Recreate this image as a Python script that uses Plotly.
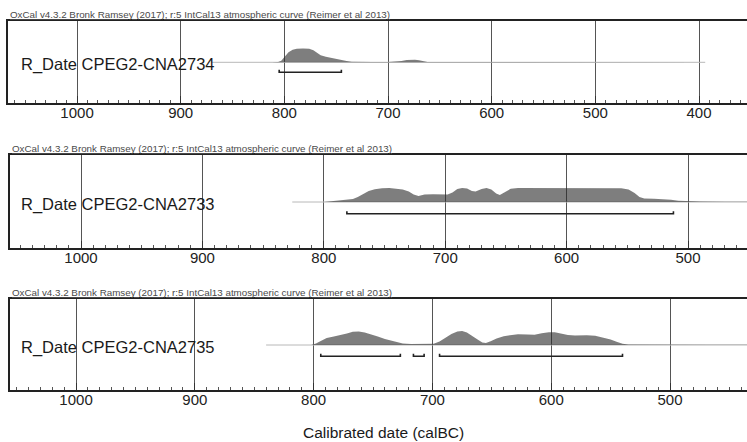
import plotly.graph_objects as go

W, H = 747, 442
FONT = "Liberation Sans, Arial, sans-serif"

header_text = "OxCal v4.3.2 Bronk Ramsey (2017); r:5 IntCal13 atmospheric curve (Reimer et al 2013)"
sample_labels = ["R_Date CPEG2-CNA2734", "R_Date CPEG2-CNA2733", "R_Date CPEG2-CNA2735"]
axis_title = "Calibrated date (calBC)"
tick_values = [1100, 1000, 900, 800, 700, 600, 500, 400, 300]

# ---- Panel 1: CPEG2-CNA2734 ----
p1_years = [812, 806, 803, 800, 796, 792, 788, 782, 776, 772, 768, 765, 760, 755, 750, 745,
            740, 735, 728, 715, 700, 692, 687, 682, 678, 674, 670, 666, 662, 655, 648, 640,
            600, 560, 548, 540, 500, 394]
p1_prob = [0, 0.3, 1.5, 5, 10, 12.5, 13.5, 13.8, 13.5, 12, 9, 7, 5.5, 4.3, 3.2, 2.2,
           1.2, 0.6, 0.3, 0.2, 0.2, 0.5, 1.3, 2.2, 2.6, 2.6, 2, 1, 0.4, 0.2, 0.4, 0.2,
           0.2, 0.2, 0.5, 0.2, 0.1, 0]
p1_ranges = [(805, 745)]
p1_extent = (870, 394)
p1_view = (1066.6, 353.7)

# ---- Panel 2: CPEG2-CNA2733 ----
p2_years = [800, 796, 790, 782, 776, 772, 768, 763, 758, 752, 746, 740, 735, 730, 726, 722,
            717, 710, 703, 698, 694, 690, 686, 682, 678, 675, 670, 666, 662, 658, 655, 651,
            646, 640, 620, 600, 580, 555, 549, 544, 540, 536, 528, 520, 514, 508, 500, 490,
            470, 440]
p2_prob = [0, 0.6, 1.2, 2, 3, 5, 8, 11, 12.8, 13.8, 14, 13.5, 12.5, 10.5, 7.5, 6,
           7.5, 7.8, 7.6, 7.5, 9.5, 13, 14, 13.5, 11, 10.5, 13, 14, 12.5, 8.5, 7, 10,
           13.2, 14, 14, 13.8, 14, 13.8, 12.5, 9, 5, 3.4, 3.2, 3, 2.3, 1.2, 0.8, 0.5,
           0.3, 0.2]
p2_ranges = [(781, 512)]
p2_extent = (826, 440)
p2_view = (1058.5, 451.4)

# ---- Panel 3: CPEG2-CNA2735 ----
p3_years = [802, 798, 794, 789, 783, 777, 772, 767, 762, 757, 752, 746, 740, 735, 730, 725,
            718, 710, 703, 699, 694, 689, 684, 679, 675, 671, 666, 662, 658, 655, 651, 646,
            640, 634, 628, 620, 614, 608, 602, 597, 592, 586, 580, 570, 563, 556, 550, 545,
            540, 535, 520, 500, 470, 420]
p3_prob = [0, 1.5, 4, 7, 8.5, 9.8, 11.5, 13.3, 13.5, 12.5, 11, 8.5, 6, 4.5, 2.5, 1.4,
           1.1, 1.2, 1.0, 1.3, 3.5, 7, 11, 13.5, 14, 12.5, 9, 5.5, 2.5, 2, 3.8, 6.5,
           8.8, 10, 10.8, 10.5, 10.2, 11.8, 12.8, 12.8, 11.5, 10, 9.5, 9.8, 9.2, 7.5, 5.5, 3.3,
           1.3, 0.6, 0.4, 0.3, 0.2, 0.1]
p3_ranges = [(794, 727), (716, 707), (694, 540)]
p3_extent = (840, 420)
p3_view = (1055.6, 435.2)

# ---- layout geometry (pixels) ----
panels = [
    dict(years=p1_years, prob=p1_prob, ranges=p1_ranges, extent=p1_extent, view=p1_view,
         left=8, top=21, bottom=103, base=62.3, bracket=72.3),
    dict(years=p2_years, prob=p2_prob, ranges=p2_ranges, extent=p2_extent, view=p2_view,
         left=10, top=155, bottom=248, base=202, bracket=213.7),
    dict(years=p3_years, prob=p3_prob, ranges=p3_ranges, extent=p3_extent, view=p3_view,
         left=10, top=298.5, bottom=390, base=345, bracket=356.3),
]

fig = go.Figure()
annotations = []
layout = {}

for i, p in enumerate(panels):
    n = i + 1
    xa = "x" if n == 1 else f"x{n}"
    ya = "y" if n == 1 else f"y{n}"
    # baseline
    fig.add_trace(go.Scatter(x=list(p["extent"]), y=[0, 0], mode="lines",
                             line=dict(color="#b8b8b8", width=1), xaxis=xa, yaxis=ya,
                             hoverinfo="skip"))
    # distribution
    fig.add_trace(go.Scatter(x=p["years"], y=p["prob"], mode="lines", fill="tozeroy",
                             fillcolor="rgba(40,40,40,0.6)",
                             line=dict(color="rgba(0,0,0,0)", width=0),
                             xaxis=xa, yaxis=ya))
    # range brackets
    by = -(p["bracket"] - p["base"])
    bx, byy = [], []
    for a, b in p["ranges"]:
        bx += [a, a, b, b, None]
        byy += [by + 2.5, by, by, by + 2.5, None]
    fig.add_trace(go.Scatter(x=bx, y=byy, mode="lines",
                             line=dict(color="#222222", width=1.6),
                             xaxis=xa, yaxis=ya, connectgaps=False))

    ytop = p["base"] - p["top"]
    ybot = -(p["bottom"] - p["base"])
    xkey = "xaxis" if n == 1 else f"xaxis{n}"
    ykey = "yaxis" if n == 1 else f"yaxis{n}"
    layout[xkey] = dict(
        domain=[p["left"] / W, 1], range=list(p["view"]), anchor=ya,
        showline=True, linecolor="#222222", linewidth=2, mirror=True,
        ticks="inside", ticklen=7, tickwidth=1, tickcolor="#333333",
        tickmode="array", tickvals=tick_values, ticktext=[str(t) for t in tick_values],
        tickfont=dict(size=15, color="#222222", family=FONT),
        ticklabelstandoff=-5,
        showgrid=True, gridcolor="#555555", gridwidth=1, zeroline=False,
        minor=dict(dtick=10, tick0=0, ticks="inside", ticklen=3, tickcolor="#555555",
                   showgrid=False),
        fixedrange=True,
    )
    layout[ykey] = dict(
        domain=[1 - p["bottom"] / H, 1 - p["top"] / H], range=[ybot, ytop], anchor=xa,
        showline=True, linecolor="#222222", linewidth=1.5, mirror=False,
        showticklabels=False, ticks="", showgrid=False, zeroline=False, fixedrange=True,
    )
    # header text
    annotations.append(dict(
        text=f"<u>{header_text}</u>", xref="paper", yref="paper",
        x=p["left"] / W, y=1 - (p["top"] - 6.5) / H, xanchor="left", yanchor="middle",
        showarrow=False, font=dict(size=9.8, color="#4a4a4a", family=FONT)))
    # sample label
    annotations.append(dict(
        text=sample_labels[i], xref="paper", yref="paper",
        x=19 / W, y=1 - (p["base"] + 2.5) / H, xanchor="left", yanchor="middle",
        showarrow=False, font=dict(size=16.5, color="#1a1a1a", family=FONT)))

annotations.append(dict(
    text=axis_title, xref="paper", yref="paper", x=384 / W, y=1 - 432 / H,
    xanchor="center", yanchor="middle", showarrow=False,
    font=dict(size=15.5, color="#1a1a1a", family=FONT)))

fig.update_layout(
    width=W, height=H, margin=dict(l=0, r=0, t=0, b=0),
    paper_bgcolor="white", plot_bgcolor="white", showlegend=False,
    font=dict(family=FONT), annotations=annotations, **layout)

fig.write_html("out.html", config={"displayModeBar": False},
               post_script="document.body.style.margin='0';document.body.style.overflow='hidden';")
